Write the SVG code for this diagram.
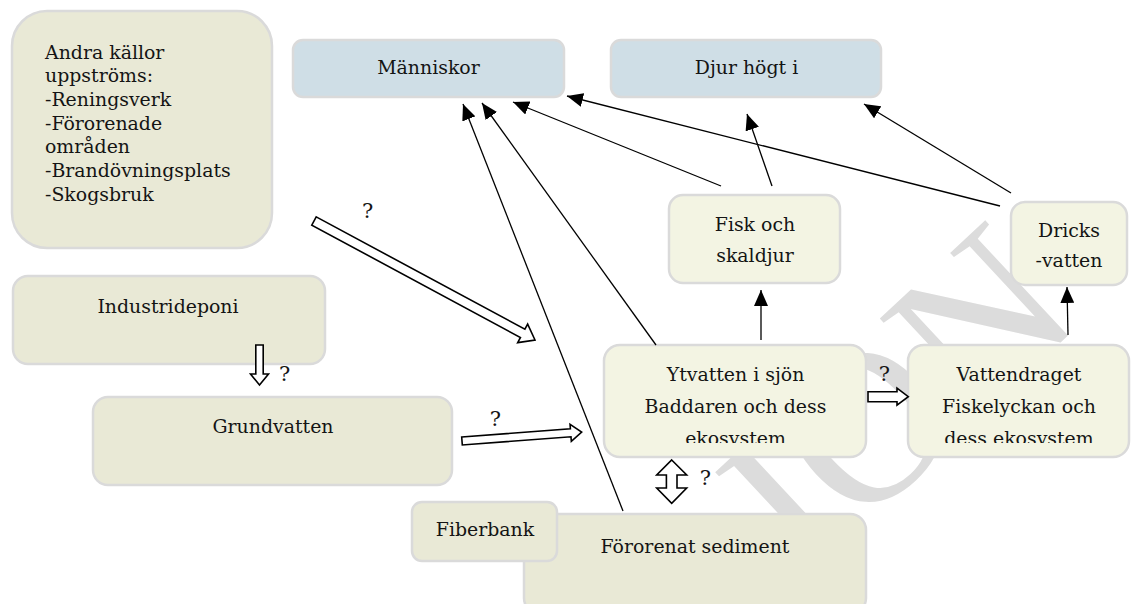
<svg xmlns="http://www.w3.org/2000/svg" width="1131" height="604" viewBox="0 0 1131 604">
<style>
.t{font-family:"DejaVu Serif","Liberation Serif",serif;font-size:18.9px;fill:#141414}
.q{font-size:21px}
.c{text-anchor:middle}
.bx{stroke:#dadada;stroke-width:2.5}
.olive{fill:#e9e9d6}
.light{fill:#f3f4e3}
.blue{fill:#cfdee6}
.ln{stroke:#000;stroke-width:1.3;fill:none;marker-end:url(#ah)}
.blk{fill:#fff;stroke:#000;stroke-width:1.6;stroke-linejoin:miter}
.wm{font-family:"Liberation Serif",serif;font-size:215px;fill:#dcdcdc}
</style>
<defs>
<marker id="ah" markerUnits="userSpaceOnUse" markerWidth="18" markerHeight="14" refX="16" refY="7" orient="auto">
<path d="M0,0 L16,7 L0,14 Z" fill="#000"/>
</marker>
<clipPath id="clipY"><rect x="600" y="345" width="270" height="98"/></clipPath>
<clipPath id="clipV"><rect x="905" y="345" width="226" height="98"/></clipPath>
</defs>
<rect width="1131" height="604" fill="#fff"/>
<text class="wm" transform="translate(805.4,580.5) rotate(-43)">ION</text>

<g id="andra">
<rect class="bx olive" x="12" y="11" width="260" height="237" rx="35"/>
<text class="t" x="45" y="58.5">Andra källor</text>
<text class="t" x="45" y="82.2">uppströms:</text>
<text class="t" x="45" y="105.8">-Reningsverk</text>
<text class="t" x="45" y="129.5">-Förorenade</text>
<text class="t" x="45" y="153.2">områden</text>
<text class="t" x="45" y="176.8">-Brandövningsplats</text>
<text class="t" x="45" y="200.5">-Skogsbruk</text>
</g>
<g id="manniskor">
<rect class="bx blue" x="293" y="40" width="271" height="57" rx="10"/>
<text class="t c" x="428.5" y="74">Människor</text>
</g>
<g id="djur">
<rect class="bx blue" x="611" y="40" width="270" height="57" rx="10"/>
<text class="t c" x="746.5" y="73.5">Djur högt i</text>
</g>
<g id="fisk">
<rect class="bx light" x="669" y="195" width="171" height="88" rx="14"/>
<text class="t c" x="755" y="231">Fisk och</text>
<text class="t c" x="755" y="262">skaldjur</text>
</g>
<g id="dricks">
<rect class="bx light" x="1011" y="202" width="116" height="83" rx="14"/>
<text class="t c" x="1069" y="237">Dricks</text>
<text class="t c" x="1069" y="267">-vatten</text>
</g>
<g id="industrideponi">
<rect class="bx olive" x="13" y="276" width="312" height="88" rx="15"/>
<text class="t c" x="168" y="313">Industrideponi</text>
</g>
<g id="grundvatten">
<rect class="bx olive" x="93" y="397" width="359" height="88" rx="15"/>
<text class="t c" x="273" y="433">Grundvatten</text>
</g>
<g id="ytvatten">
<rect class="bx light" x="604" y="345" width="262" height="112" rx="16"/>
<g clip-path="url(#clipY)">
<text class="t c" x="735.5" y="380.7">Ytvatten i sjön</text>
<text class="t c" x="735.5" y="413">Baddaren och dess</text>
<text class="t c" x="735.5" y="445.3">ekosystem</text>
</g>
</g>
<g id="vattendraget">
<rect class="bx light" x="908" y="345" width="221" height="112" rx="16"/>
<g clip-path="url(#clipV)">
<text class="t c" x="1019" y="380.7">Vattendraget</text>
<text class="t c" x="1019" y="413">Fiskelyckan och</text>
<text class="t c" x="1019" y="445.3">dess ekosystem</text>
</g>
</g>
<g id="sediment">
<rect class="bx olive" x="524" y="514" width="342" height="100" rx="16"/>
<text class="t c" x="695" y="553">Förorenat sediment</text>
</g>
<g id="fiberbank">
<rect class="bx olive" x="412" y="502" width="145" height="59" rx="10"/>
<text class="t c" x="485" y="536">Fiberbank</text>
</g>

<g id="connectors">
<line class="ln" x1="623" y1="511" x2="463" y2="104"/>
<line class="ln" x1="656" y1="345" x2="482" y2="103"/>
<line class="ln" x1="721" y1="186" x2="513" y2="102"/>
<line class="ln" x1="1000" y1="206" x2="567" y2="96"/>
<line class="ln" x1="772" y1="186" x2="747" y2="114"/>
<line class="ln" x1="1011" y1="193" x2="864" y2="104"/>
<line class="ln" x1="761" y1="340" x2="761" y2="290"/>
<line class="ln" x1="1068" y1="335" x2="1067" y2="287"/>
<path class="blk" transform="translate(314,221) rotate(28.3)" d="M0,-4.7 L237,-4.7 L237,-10.5 L251,0 L237,10.5 L237,4.7 L0,4.7 Z"/>
<path class="blk" transform="translate(462,441) rotate(-4.3)" d="M0,-4 L109,-4 L109,-8.5 L120,0 L109,8.5 L109,4 L0,4 Z"/>
<path class="blk" d="M255.8,345 L263.2,345 L263.2,374 L268.5,374 L259.5,385 L250.5,374 L255.8,374 Z"/>
<path class="blk" d="M868,391.7 L897,391.7 L897,388.2 L908.3,396.7 L897,405.2 L897,401.7 L868,401.7 Z"/>
<path class="blk" d="M671.7,460 L686.7,475 L677,475 L677,488 L686.7,488 L671.7,503.3 L656.7,488 L666.4,488 L666.4,475 L656.7,475 Z"/>
<text class="t q c" x="367.7" y="218">?</text>
<text class="t q c" x="284.7" y="380.5">?</text>
<text class="t q c" x="495.3" y="425.5">?</text>
<text class="t q c" x="884.3" y="380.7">?</text>
<text class="t q c" x="705.3" y="485">?</text>
</g>
</svg>
